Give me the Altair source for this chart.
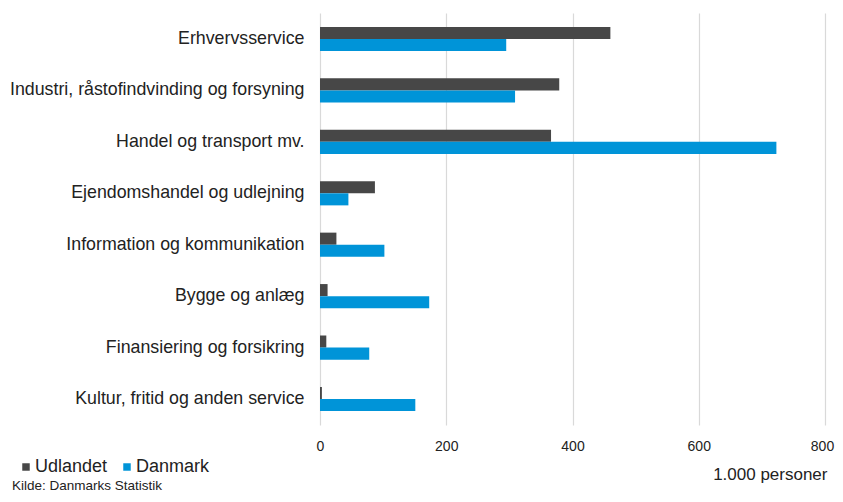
import altair as alt
import pandas as pd

categories = [
    "Erhvervsservice",
    "Industri, råstofindvinding og forsyning",
    "Handel og transport mv.",
    "Ejendomshandel og udlejning",
    "Information og kommunikation",
    "Bygge og anlæg",
    "Finansiering og forsikring",
    "Kultur, fritid og anden service",
]
series = ["Udlandet", "Danmark"]
udlandet = [460, 379, 366, 87, 26, 12, 10, 3]
danmark = [295, 309, 723, 45, 102, 173, 78, 151]
colors = ["#474747", "#0094D8"]
x_ticks = [0, 200, 400, 600, 800]
unit_label = "1.000 personer"
source_note = "Kilde: Danmarks Statistik"

rows = []
for c, u, d in zip(categories, udlandet, danmark):
    rows.append({"kategori": c, "serie": "Udlandet", "værdi": u})
    rows.append({"kategori": c, "serie": "Danmark", "værdi": d})
df = pd.DataFrame(rows)

FONT = "Liberation Sans"
TXT = "#222222"

bars = alt.Chart(df).mark_bar().encode(
    y=alt.Y(
        "kategori:N",
        sort=categories,
        scale=alt.Scale(paddingInner=0.53, paddingOuter=0.27),
        axis=alt.Axis(
            title=None, domain=False, ticks=False, labelPadding=16,
            labelFontSize=17.8, labelColor=TXT, labelFont=FONT, labelLimit=400,
        ),
    ),
    yOffset=alt.YOffset("serie:N", sort=series, scale=alt.Scale(paddingInner=0, paddingOuter=0)),
    x=alt.X(
        "værdi:Q",
        scale=alt.Scale(domain=[0, 800], nice=False),
        axis=alt.Axis(
            values=x_ticks, title=unit_label, domain=False, ticks=False,
            grid=True, gridColor="#d9d9d9", gridWidth=1.2,
            labelPadding=14, labelFontSize=14, labelColor=TXT, labelFont=FONT,
            labelOffset={"condition": {"test": "datum.value == 800", "value": -3}, "value": 0},
            titleFont=FONT, titleFontSize=17, titleFontWeight="normal", titleColor=TXT,
            titleAnchor="end", titleAlign="right", titleX=507, titleY=54,
            titleBaseline="alphabetic", labelFlush=False,
        ),
    ),
    color=alt.Color(
        "serie:N",
        sort=series,
        scale=alt.Scale(domain=series, range=colors),
        legend=alt.Legend(
            title=None, orient="none", direction="horizontal",
            legendX=-303, legendY=445, symbolType="square", symbolSize=56,
            symbolStrokeWidth=0, labelFontSize=18, labelFont=FONT, labelColor=TXT,
            labelOffset=0, columnPadding=10,
        ),
    ),
)

note = alt.Chart(pd.DataFrame({"t": [source_note]})).mark_text(
    align="left", baseline="alphabetic", fontSize=13.5, font=FONT, color=TXT
).encode(x=alt.value(-308), y=alt.value(477), text="t:N")

chart = alt.layer(bars, note).properties(
    width=505,
    height=412,
    autosize=alt.AutoSizeParams(type="none"),
    padding={"left": 312, "top": 5, "right": 10, "bottom": 69},
).configure_view(stroke=None)

chart.save("out.html", embed_options={"renderer": "svg", "actions": False})
